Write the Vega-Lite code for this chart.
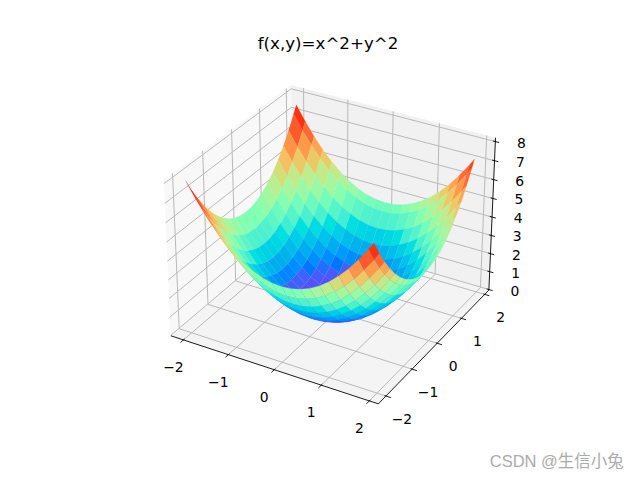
{"$schema":"https://vega.github.io/schema/vega-lite/v6.json","width":640,"height":480,"padding":0,"autosize":{"type":"none"},"background":"white","config":{"view":{"stroke":null}},
"title":{"text":"f(x,y)=x^2+y^2","font":"DejaVu Sans","fontSize":16.67,"fontWeight":"normal","color":"#000000","anchor":"middle","dx":8,"offset":-53},
"data":{"values":[
{"k":"p","g":"L","x":-2.284,"y":-2.284,"z":-0.03},{"k":"p","g":"L","x":-2.284,"y":2.184,"z":-0.03},{"k":"p","g":"L","x":-2.284,"y":2.184,"z":8.2},{"k":"p","g":"L","x":-2.284,"y":-2.284,"z":8.2},
{"k":"p","g":"R","x":-2.284,"y":2.184,"z":-0.03},{"k":"p","g":"R","x":2.184,"y":2.184,"z":-0.03},{"k":"p","g":"R","x":2.184,"y":2.184,"z":8.2},{"k":"p","g":"R","x":-2.284,"y":2.184,"z":8.2},
{"k":"p","g":"F","x":-2.284,"y":-2.284,"z":-0.03},{"k":"p","g":"F","x":2.184,"y":-2.284,"z":-0.03},{"k":"p","g":"F","x":2.184,"y":2.184,"z":-0.03},{"k":"p","g":"F","x":-2.284,"y":2.184,"z":-0.03},
{"k":"g","g":1,"x":-2,"y":-2.284,"z":-0.03},{"k":"g","g":1,"x":-2,"y":2.184,"z":-0.03},{"k":"g","g":1,"x":-2,"y":2.184,"z":8.2},
{"k":"g","g":2,"x":-1,"y":-2.284,"z":-0.03},{"k":"g","g":2,"x":-1,"y":2.184,"z":-0.03},{"k":"g","g":2,"x":-1,"y":2.184,"z":8.2},
{"k":"g","g":3,"x":0,"y":-2.284,"z":-0.03},{"k":"g","g":3,"x":0,"y":2.184,"z":-0.03},{"k":"g","g":3,"x":0,"y":2.184,"z":8.2},
{"k":"g","g":4,"x":1,"y":-2.284,"z":-0.03},{"k":"g","g":4,"x":1,"y":2.184,"z":-0.03},{"k":"g","g":4,"x":1,"y":2.184,"z":8.2},
{"k":"g","g":5,"x":2,"y":-2.284,"z":-0.03},{"k":"g","g":5,"x":2,"y":2.184,"z":-0.03},{"k":"g","g":5,"x":2,"y":2.184,"z":8.2},
{"k":"g","g":6,"x":2.184,"y":-2,"z":-0.03},{"k":"g","g":6,"x":-2.284,"y":-2,"z":-0.03},{"k":"g","g":6,"x":-2.284,"y":-2,"z":8.2},
{"k":"g","g":7,"x":2.184,"y":-1,"z":-0.03},{"k":"g","g":7,"x":-2.284,"y":-1,"z":-0.03},{"k":"g","g":7,"x":-2.284,"y":-1,"z":8.2},
{"k":"g","g":8,"x":2.184,"y":0,"z":-0.03},{"k":"g","g":8,"x":-2.284,"y":0,"z":-0.03},{"k":"g","g":8,"x":-2.284,"y":0,"z":8.2},
{"k":"g","g":9,"x":2.184,"y":1,"z":-0.03},{"k":"g","g":9,"x":-2.284,"y":1,"z":-0.03},{"k":"g","g":9,"x":-2.284,"y":1,"z":8.2},
{"k":"g","g":10,"x":2.184,"y":2,"z":-0.03},{"k":"g","g":10,"x":-2.284,"y":2,"z":-0.03},{"k":"g","g":10,"x":-2.284,"y":2,"z":8.2},
{"k":"g","g":11,"x":-2.284,"y":-2.284,"z":0},{"k":"g","g":11,"x":-2.284,"y":2.184,"z":0},{"k":"g","g":11,"x":2.184,"y":2.184,"z":0},
{"k":"g","g":12,"x":-2.284,"y":-2.284,"z":1},{"k":"g","g":12,"x":-2.284,"y":2.184,"z":1},{"k":"g","g":12,"x":2.184,"y":2.184,"z":1},
{"k":"g","g":13,"x":-2.284,"y":-2.284,"z":2},{"k":"g","g":13,"x":-2.284,"y":2.184,"z":2},{"k":"g","g":13,"x":2.184,"y":2.184,"z":2},
{"k":"g","g":14,"x":-2.284,"y":-2.284,"z":3},{"k":"g","g":14,"x":-2.284,"y":2.184,"z":3},{"k":"g","g":14,"x":2.184,"y":2.184,"z":3},
{"k":"g","g":15,"x":-2.284,"y":-2.284,"z":4},{"k":"g","g":15,"x":-2.284,"y":2.184,"z":4},{"k":"g","g":15,"x":2.184,"y":2.184,"z":4},
{"k":"g","g":16,"x":-2.284,"y":-2.284,"z":5},{"k":"g","g":16,"x":-2.284,"y":2.184,"z":5},{"k":"g","g":16,"x":2.184,"y":2.184,"z":5},
{"k":"g","g":17,"x":-2.284,"y":-2.284,"z":6},{"k":"g","g":17,"x":-2.284,"y":2.184,"z":6},{"k":"g","g":17,"x":2.184,"y":2.184,"z":6},
{"k":"g","g":18,"x":-2.284,"y":-2.284,"z":7},{"k":"g","g":18,"x":-2.284,"y":2.184,"z":7},{"k":"g","g":18,"x":2.184,"y":2.184,"z":7},
{"k":"g","g":19,"x":-2.284,"y":-2.284,"z":8},{"k":"g","g":19,"x":-2.284,"y":2.184,"z":8},{"k":"g","g":19,"x":2.184,"y":2.184,"z":8},
{"k":"a","g":30,"x":-2.284,"y":-2.284,"z":-0.03},{"k":"a","g":30,"x":2.184,"y":-2.284,"z":-0.03},
{"k":"a","g":31,"x":2.184,"y":-2.284,"z":-0.03},{"k":"a","g":31,"x":2.184,"y":2.184,"z":-0.03},
{"k":"a","g":32,"x":2.184,"y":2.184,"z":-0.03},{"k":"a","g":32,"x":2.184,"y":2.184,"z":8.2},
{"k":"a","g":33,"x":-2,"y":-2.384,"z":-0.03},{"k":"a","g":33,"x":-2,"y":-2.244,"z":-0.03},
{"k":"a","g":34,"x":-1,"y":-2.384,"z":-0.03},{"k":"a","g":34,"x":-1,"y":-2.244,"z":-0.03},
{"k":"a","g":35,"x":0,"y":-2.384,"z":-0.03},{"k":"a","g":35,"x":0,"y":-2.244,"z":-0.03},
{"k":"a","g":36,"x":1,"y":-2.384,"z":-0.03},{"k":"a","g":36,"x":1,"y":-2.244,"z":-0.03},
{"k":"a","g":37,"x":2,"y":-2.384,"z":-0.03},{"k":"a","g":37,"x":2,"y":-2.244,"z":-0.03},
{"k":"a","g":38,"x":2.284,"y":-2,"z":-0.03},{"k":"a","g":38,"x":2.154,"y":-2,"z":-0.03},
{"k":"a","g":39,"x":2.284,"y":-1,"z":-0.03},{"k":"a","g":39,"x":2.154,"y":-1,"z":-0.03},
{"k":"a","g":40,"x":2.284,"y":0,"z":-0.03},{"k":"a","g":40,"x":2.154,"y":0,"z":-0.03},
{"k":"a","g":41,"x":2.284,"y":1,"z":-0.03},{"k":"a","g":41,"x":2.154,"y":1,"z":-0.03},
{"k":"a","g":42,"x":2.284,"y":2,"z":-0.03},{"k":"a","g":42,"x":2.154,"y":2,"z":-0.03},
{"k":"a","g":43,"x":2.264,"y":2.184,"z":0},{"k":"a","g":43,"x":2.134,"y":2.184,"z":0},
{"k":"a","g":44,"x":2.264,"y":2.184,"z":1},{"k":"a","g":44,"x":2.134,"y":2.184,"z":1},
{"k":"a","g":45,"x":2.264,"y":2.184,"z":2},{"k":"a","g":45,"x":2.134,"y":2.184,"z":2},
{"k":"a","g":46,"x":2.264,"y":2.184,"z":3},{"k":"a","g":46,"x":2.134,"y":2.184,"z":3},
{"k":"a","g":47,"x":2.264,"y":2.184,"z":4},{"k":"a","g":47,"x":2.134,"y":2.184,"z":4},
{"k":"a","g":48,"x":2.264,"y":2.184,"z":5},{"k":"a","g":48,"x":2.134,"y":2.184,"z":5},
{"k":"a","g":49,"x":2.264,"y":2.184,"z":6},{"k":"a","g":49,"x":2.134,"y":2.184,"z":6},
{"k":"a","g":50,"x":2.264,"y":2.184,"z":7},{"k":"a","g":50,"x":2.134,"y":2.184,"z":7},
{"k":"a","g":51,"x":2.264,"y":2.184,"z":8},{"k":"a","g":51,"x":2.134,"y":2.184,"z":8},
{"k":"tx","t":"−2","x":-2,"y":-2.284,"z":-0.03},{"k":"tx","t":"−1","x":-1,"y":-2.284,"z":-0.03},{"k":"tx","t":"0","x":0,"y":-2.284,"z":-0.03},{"k":"tx","t":"1","x":1,"y":-2.284,"z":-0.03},{"k":"tx","t":"2","x":2,"y":-2.284,"z":-0.03},
{"k":"ty","t":"−2","x":2.184,"y":-2,"z":-0.03},{"k":"ty","t":"−1","x":2.184,"y":-1,"z":-0.03},{"k":"ty","t":"0","x":2.184,"y":0,"z":-0.03},{"k":"ty","t":"1","x":2.184,"y":1,"z":-0.03},{"k":"ty","t":"2","x":2.184,"y":2,"z":-0.03},
{"k":"tz","t":"0","x":2.184,"y":2.184,"z":0},{"k":"tz","t":"1","x":2.184,"y":2.184,"z":1},{"k":"tz","t":"2","x":2.184,"y":2.184,"z":2},{"k":"tz","t":"3","x":2.184,"y":2.184,"z":3},{"k":"tz","t":"4","x":2.184,"y":2.184,"z":4},{"k":"tz","t":"5","x":2.184,"y":2.184,"z":5},{"k":"tz","t":"6","x":2.184,"y":2.184,"z":6},{"k":"tz","t":"7","x":2.184,"y":2.184,"z":7},{"k":"tz","t":"8","x":2.184,"y":2.184,"z":8},
{"k":"w","t":"CSDN @生信小兔","x":2.184,"y":-2.284,"z":-0.03}
]},
"transform":[
{"window":[{"op":"row_number","as":"o"}]},
{"calculate":"0.2558*(datum.x+0.05)","as":"a"},
{"calculate":"0.2558*(datum.y+0.05)","as":"b"},
{"calculate":"0.10304*(datum.z+0.03)-0.4287","as":"d"},
{"calculate":"10/(10-(0.433*datum.a-0.75*datum.b+0.5*datum.d))","as":"f"},
{"calculate":"332.7+208*(0.866*datum.a+0.5*datum.b)*datum.f","as":"sx"},
{"calculate":"236.2-210*(-0.25*datum.a+0.433*datum.b+0.866*datum.d)*datum.f","as":"sy"}
],
"encoding":{"x":{"field":"sx","type":"quantitative","scale":{"domain":[0,640],"nice":false,"zero":false},"axis":null},"y":{"field":"sy","type":"quantitative","scale":{"domain":[480,0],"nice":false,"zero":false},"axis":null}},
"layer":[
{"transform":[{"filter":"datum.k=='p'"}],"mark":{"type":"line","strokeWidth":0,"strokeOpacity":0},"encoding":{"order":{"field":"o","type":"quantitative"},"detail":{"field":"g"},"fill":{"field":"g","type":"nominal","scale":{"domain":["L","R","F"],"range":["#f8f8f8","#f1f1f1","#f4f4f4"]},"legend":null}}},
{"transform":[{"filter":"datum.k=='g'"}],"mark":{"type":"line","stroke":"#b9b9b9","strokeWidth":1,"strokeJoin":"miter"},"encoding":{"order":{"field":"o","type":"quantitative"},"detail":{"field":"g"}}},
{"transform":[{"filter":"datum.k=='a'"}],"mark":{"type":"line","stroke":"#000000","strokeWidth":0.9},"encoding":{"order":{"field":"o","type":"quantitative"},"detail":{"field":"g"}}},
{"data":{"name":"surface","values":[
{"x":-2,"y":1.9,"z":7.61},{"x":-1.8,"y":1.9,"z":6.85},{"x":-1.6,"y":1.9,"z":6.17},{"x":-1.4,"y":1.9,"z":5.57},{"x":-1.2,"y":1.9,"z":5.05},{"x":-1,"y":1.9,"z":4.61},{"x":-0.8,"y":1.9,"z":4.25},{"x":-0.6,"y":1.9,"z":3.97},{"x":-0.4,"y":1.9,"z":3.77},{"x":-0.2,"y":1.9,"z":3.65},{"x":0,"y":1.9,"z":3.61},{"x":0.2,"y":1.9,"z":3.65},{"x":0.4,"y":1.9,"z":3.77},{"x":0.6,"y":1.9,"z":3.97},{"x":0.8,"y":1.9,"z":4.25},{"x":1,"y":1.9,"z":4.61},{"x":1.2,"y":1.9,"z":5.05},{"x":1.4,"y":1.9,"z":5.57},{"x":1.6,"y":1.9,"z":6.17},{"x":1.8,"y":1.9,"z":6.85},{"x":1.9,"y":1.9,"z":7.22},
{"x":-2,"y":1.8,"z":7.24},{"x":-1.8,"y":1.8,"z":6.48},{"x":-1.6,"y":1.8,"z":5.8},{"x":-1.4,"y":1.8,"z":5.2},{"x":-1.2,"y":1.8,"z":4.68},{"x":-1,"y":1.8,"z":4.24},{"x":-0.8,"y":1.8,"z":3.88},{"x":-0.6,"y":1.8,"z":3.6},{"x":-0.4,"y":1.8,"z":3.4},{"x":-0.2,"y":1.8,"z":3.28},{"x":0,"y":1.8,"z":3.24},{"x":0.2,"y":1.8,"z":3.28},{"x":0.4,"y":1.8,"z":3.4},{"x":0.6,"y":1.8,"z":3.6},{"x":0.8,"y":1.8,"z":3.88},{"x":1,"y":1.8,"z":4.24},{"x":1.2,"y":1.8,"z":4.68},{"x":1.4,"y":1.8,"z":5.2},{"x":1.6,"y":1.8,"z":5.8},{"x":1.8,"y":1.8,"z":6.48},{"x":1.9,"y":1.8,"z":6.85},
{"x":-2,"y":1.6,"z":6.56},{"x":-1.8,"y":1.6,"z":5.8},{"x":-1.6,"y":1.6,"z":5.12},{"x":-1.4,"y":1.6,"z":4.52},{"x":-1.2,"y":1.6,"z":4},{"x":-1,"y":1.6,"z":3.56},{"x":-0.8,"y":1.6,"z":3.2},{"x":-0.6,"y":1.6,"z":2.92},{"x":-0.4,"y":1.6,"z":2.72},{"x":-0.2,"y":1.6,"z":2.6},{"x":0,"y":1.6,"z":2.56},{"x":0.2,"y":1.6,"z":2.6},{"x":0.4,"y":1.6,"z":2.72},{"x":0.6,"y":1.6,"z":2.92},{"x":0.8,"y":1.6,"z":3.2},{"x":1,"y":1.6,"z":3.56},{"x":1.2,"y":1.6,"z":4},{"x":1.4,"y":1.6,"z":4.52},{"x":1.6,"y":1.6,"z":5.12},{"x":1.8,"y":1.6,"z":5.8},{"x":1.9,"y":1.6,"z":6.17},
{"x":-2,"y":1.4,"z":5.96},{"x":-1.8,"y":1.4,"z":5.2},{"x":-1.6,"y":1.4,"z":4.52},{"x":-1.4,"y":1.4,"z":3.92},{"x":-1.2,"y":1.4,"z":3.4},{"x":-1,"y":1.4,"z":2.96},{"x":-0.8,"y":1.4,"z":2.6},{"x":-0.6,"y":1.4,"z":2.32},{"x":-0.4,"y":1.4,"z":2.12},{"x":-0.2,"y":1.4,"z":2},{"x":0,"y":1.4,"z":1.96},{"x":0.2,"y":1.4,"z":2},{"x":0.4,"y":1.4,"z":2.12},{"x":0.6,"y":1.4,"z":2.32},{"x":0.8,"y":1.4,"z":2.6},{"x":1,"y":1.4,"z":2.96},{"x":1.2,"y":1.4,"z":3.4},{"x":1.4,"y":1.4,"z":3.92},{"x":1.6,"y":1.4,"z":4.52},{"x":1.8,"y":1.4,"z":5.2},{"x":1.9,"y":1.4,"z":5.57},
{"x":-2,"y":1.2,"z":5.44},{"x":-1.8,"y":1.2,"z":4.68},{"x":-1.6,"y":1.2,"z":4},{"x":-1.4,"y":1.2,"z":3.4},{"x":-1.2,"y":1.2,"z":2.88},{"x":-1,"y":1.2,"z":2.44},{"x":-0.8,"y":1.2,"z":2.08},{"x":-0.6,"y":1.2,"z":1.8},{"x":-0.4,"y":1.2,"z":1.6},{"x":-0.2,"y":1.2,"z":1.48},{"x":0,"y":1.2,"z":1.44},{"x":0.2,"y":1.2,"z":1.48},{"x":0.4,"y":1.2,"z":1.6},{"x":0.6,"y":1.2,"z":1.8},{"x":0.8,"y":1.2,"z":2.08},{"x":1,"y":1.2,"z":2.44},{"x":1.2,"y":1.2,"z":2.88},{"x":1.4,"y":1.2,"z":3.4},{"x":1.6,"y":1.2,"z":4},{"x":1.8,"y":1.2,"z":4.68},{"x":1.9,"y":1.2,"z":5.05},
{"x":-2,"y":1,"z":5},{"x":-1.8,"y":1,"z":4.24},{"x":-1.6,"y":1,"z":3.56},{"x":-1.4,"y":1,"z":2.96},{"x":-1.2,"y":1,"z":2.44},{"x":-1,"y":1,"z":2},{"x":-0.8,"y":1,"z":1.64},{"x":-0.6,"y":1,"z":1.36},{"x":-0.4,"y":1,"z":1.16},{"x":-0.2,"y":1,"z":1.04},{"x":0,"y":1,"z":1},{"x":0.2,"y":1,"z":1.04},{"x":0.4,"y":1,"z":1.16},{"x":0.6,"y":1,"z":1.36},{"x":0.8,"y":1,"z":1.64},{"x":1,"y":1,"z":2},{"x":1.2,"y":1,"z":2.44},{"x":1.4,"y":1,"z":2.96},{"x":1.6,"y":1,"z":3.56},{"x":1.8,"y":1,"z":4.24},{"x":1.9,"y":1,"z":4.61},
{"x":-2,"y":0.8,"z":4.64},{"x":-1.8,"y":0.8,"z":3.88},{"x":-1.6,"y":0.8,"z":3.2},{"x":-1.4,"y":0.8,"z":2.6},{"x":-1.2,"y":0.8,"z":2.08},{"x":-1,"y":0.8,"z":1.64},{"x":-0.8,"y":0.8,"z":1.28},{"x":-0.6,"y":0.8,"z":1},{"x":-0.4,"y":0.8,"z":0.8},{"x":-0.2,"y":0.8,"z":0.68},{"x":0,"y":0.8,"z":0.64},{"x":0.2,"y":0.8,"z":0.68},{"x":0.4,"y":0.8,"z":0.8},{"x":0.6,"y":0.8,"z":1},{"x":0.8,"y":0.8,"z":1.28},{"x":1,"y":0.8,"z":1.64},{"x":1.2,"y":0.8,"z":2.08},{"x":1.4,"y":0.8,"z":2.6},{"x":1.6,"y":0.8,"z":3.2},{"x":1.8,"y":0.8,"z":3.88},{"x":1.9,"y":0.8,"z":4.25},
{"x":-2,"y":0.6,"z":4.36},{"x":-1.8,"y":0.6,"z":3.6},{"x":-1.6,"y":0.6,"z":2.92},{"x":-1.4,"y":0.6,"z":2.32},{"x":-1.2,"y":0.6,"z":1.8},{"x":-1,"y":0.6,"z":1.36},{"x":-0.8,"y":0.6,"z":1},{"x":-0.6,"y":0.6,"z":0.72},{"x":-0.4,"y":0.6,"z":0.52},{"x":-0.2,"y":0.6,"z":0.4},{"x":0,"y":0.6,"z":0.36},{"x":0.2,"y":0.6,"z":0.4},{"x":0.4,"y":0.6,"z":0.52},{"x":0.6,"y":0.6,"z":0.72},{"x":0.8,"y":0.6,"z":1},{"x":1,"y":0.6,"z":1.36},{"x":1.2,"y":0.6,"z":1.8},{"x":1.4,"y":0.6,"z":2.32},{"x":1.6,"y":0.6,"z":2.92},{"x":1.8,"y":0.6,"z":3.6},{"x":1.9,"y":0.6,"z":3.97},
{"x":-2,"y":0.4,"z":4.16},{"x":-1.8,"y":0.4,"z":3.4},{"x":-1.6,"y":0.4,"z":2.72},{"x":-1.4,"y":0.4,"z":2.12},{"x":-1.2,"y":0.4,"z":1.6},{"x":-1,"y":0.4,"z":1.16},{"x":-0.8,"y":0.4,"z":0.8},{"x":-0.6,"y":0.4,"z":0.52},{"x":-0.4,"y":0.4,"z":0.32},{"x":-0.2,"y":0.4,"z":0.2},{"x":0,"y":0.4,"z":0.16},{"x":0.2,"y":0.4,"z":0.2},{"x":0.4,"y":0.4,"z":0.32},{"x":0.6,"y":0.4,"z":0.52},{"x":0.8,"y":0.4,"z":0.8},{"x":1,"y":0.4,"z":1.16},{"x":1.2,"y":0.4,"z":1.6},{"x":1.4,"y":0.4,"z":2.12},{"x":1.6,"y":0.4,"z":2.72},{"x":1.8,"y":0.4,"z":3.4},{"x":1.9,"y":0.4,"z":3.77},
{"x":-2,"y":0.2,"z":4.04},{"x":-1.8,"y":0.2,"z":3.28},{"x":-1.6,"y":0.2,"z":2.6},{"x":-1.4,"y":0.2,"z":2},{"x":-1.2,"y":0.2,"z":1.48},{"x":-1,"y":0.2,"z":1.04},{"x":-0.8,"y":0.2,"z":0.68},{"x":-0.6,"y":0.2,"z":0.4},{"x":-0.4,"y":0.2,"z":0.2},{"x":-0.2,"y":0.2,"z":0.08},{"x":0,"y":0.2,"z":0.04},{"x":0.2,"y":0.2,"z":0.08},{"x":0.4,"y":0.2,"z":0.2},{"x":0.6,"y":0.2,"z":0.4},{"x":0.8,"y":0.2,"z":0.68},{"x":1,"y":0.2,"z":1.04},{"x":1.2,"y":0.2,"z":1.48},{"x":1.4,"y":0.2,"z":2},{"x":1.6,"y":0.2,"z":2.6},{"x":1.8,"y":0.2,"z":3.28},{"x":1.9,"y":0.2,"z":3.65},
{"x":-2,"y":0,"z":4},{"x":-1.8,"y":0,"z":3.24},{"x":-1.6,"y":0,"z":2.56},{"x":-1.4,"y":0,"z":1.96},{"x":-1.2,"y":0,"z":1.44},{"x":-1,"y":0,"z":1},{"x":-0.8,"y":0,"z":0.64},{"x":-0.6,"y":0,"z":0.36},{"x":-0.4,"y":0,"z":0.16},{"x":-0.2,"y":0,"z":0.04},{"x":0,"y":0,"z":0},{"x":0.2,"y":0,"z":0.04},{"x":0.4,"y":0,"z":0.16},{"x":0.6,"y":0,"z":0.36},{"x":0.8,"y":0,"z":0.64},{"x":1,"y":0,"z":1},{"x":1.2,"y":0,"z":1.44},{"x":1.4,"y":0,"z":1.96},{"x":1.6,"y":0,"z":2.56},{"x":1.8,"y":0,"z":3.24},{"x":1.9,"y":0,"z":3.61},
{"x":-2,"y":-0.2,"z":4.04},{"x":-1.8,"y":-0.2,"z":3.28},{"x":-1.6,"y":-0.2,"z":2.6},{"x":-1.4,"y":-0.2,"z":2},{"x":-1.2,"y":-0.2,"z":1.48},{"x":-1,"y":-0.2,"z":1.04},{"x":-0.8,"y":-0.2,"z":0.68},{"x":-0.6,"y":-0.2,"z":0.4},{"x":-0.4,"y":-0.2,"z":0.2},{"x":-0.2,"y":-0.2,"z":0.08},{"x":0,"y":-0.2,"z":0.04},{"x":0.2,"y":-0.2,"z":0.08},{"x":0.4,"y":-0.2,"z":0.2},{"x":0.6,"y":-0.2,"z":0.4},{"x":0.8,"y":-0.2,"z":0.68},{"x":1,"y":-0.2,"z":1.04},{"x":1.2,"y":-0.2,"z":1.48},{"x":1.4,"y":-0.2,"z":2},{"x":1.6,"y":-0.2,"z":2.6},{"x":1.8,"y":-0.2,"z":3.28},{"x":1.9,"y":-0.2,"z":3.65},
{"x":-2,"y":-0.4,"z":4.16},{"x":-1.8,"y":-0.4,"z":3.4},{"x":-1.6,"y":-0.4,"z":2.72},{"x":-1.4,"y":-0.4,"z":2.12},{"x":-1.2,"y":-0.4,"z":1.6},{"x":-1,"y":-0.4,"z":1.16},{"x":-0.8,"y":-0.4,"z":0.8},{"x":-0.6,"y":-0.4,"z":0.52},{"x":-0.4,"y":-0.4,"z":0.32},{"x":-0.2,"y":-0.4,"z":0.2},{"x":0,"y":-0.4,"z":0.16},{"x":0.2,"y":-0.4,"z":0.2},{"x":0.4,"y":-0.4,"z":0.32},{"x":0.6,"y":-0.4,"z":0.52},{"x":0.8,"y":-0.4,"z":0.8},{"x":1,"y":-0.4,"z":1.16},{"x":1.2,"y":-0.4,"z":1.6},{"x":1.4,"y":-0.4,"z":2.12},{"x":1.6,"y":-0.4,"z":2.72},{"x":1.8,"y":-0.4,"z":3.4},{"x":1.9,"y":-0.4,"z":3.77},
{"x":-2,"y":-0.6,"z":4.36},{"x":-1.8,"y":-0.6,"z":3.6},{"x":-1.6,"y":-0.6,"z":2.92},{"x":-1.4,"y":-0.6,"z":2.32},{"x":-1.2,"y":-0.6,"z":1.8},{"x":-1,"y":-0.6,"z":1.36},{"x":-0.8,"y":-0.6,"z":1},{"x":-0.6,"y":-0.6,"z":0.72},{"x":-0.4,"y":-0.6,"z":0.52},{"x":-0.2,"y":-0.6,"z":0.4},{"x":0,"y":-0.6,"z":0.36},{"x":0.2,"y":-0.6,"z":0.4},{"x":0.4,"y":-0.6,"z":0.52},{"x":0.6,"y":-0.6,"z":0.72},{"x":0.8,"y":-0.6,"z":1},{"x":1,"y":-0.6,"z":1.36},{"x":1.2,"y":-0.6,"z":1.8},{"x":1.4,"y":-0.6,"z":2.32},{"x":1.6,"y":-0.6,"z":2.92},{"x":1.8,"y":-0.6,"z":3.6},{"x":1.9,"y":-0.6,"z":3.97},
{"x":-2,"y":-0.8,"z":4.64},{"x":-1.8,"y":-0.8,"z":3.88},{"x":-1.6,"y":-0.8,"z":3.2},{"x":-1.4,"y":-0.8,"z":2.6},{"x":-1.2,"y":-0.8,"z":2.08},{"x":-1,"y":-0.8,"z":1.64},{"x":-0.8,"y":-0.8,"z":1.28},{"x":-0.6,"y":-0.8,"z":1},{"x":-0.4,"y":-0.8,"z":0.8},{"x":-0.2,"y":-0.8,"z":0.68},{"x":0,"y":-0.8,"z":0.64},{"x":0.2,"y":-0.8,"z":0.68},{"x":0.4,"y":-0.8,"z":0.8},{"x":0.6,"y":-0.8,"z":1},{"x":0.8,"y":-0.8,"z":1.28},{"x":1,"y":-0.8,"z":1.64},{"x":1.2,"y":-0.8,"z":2.08},{"x":1.4,"y":-0.8,"z":2.6},{"x":1.6,"y":-0.8,"z":3.2},{"x":1.8,"y":-0.8,"z":3.88},{"x":1.9,"y":-0.8,"z":4.25},
{"x":-2,"y":-1,"z":5},{"x":-1.8,"y":-1,"z":4.24},{"x":-1.6,"y":-1,"z":3.56},{"x":-1.4,"y":-1,"z":2.96},{"x":-1.2,"y":-1,"z":2.44},{"x":-1,"y":-1,"z":2},{"x":-0.8,"y":-1,"z":1.64},{"x":-0.6,"y":-1,"z":1.36},{"x":-0.4,"y":-1,"z":1.16},{"x":-0.2,"y":-1,"z":1.04},{"x":0,"y":-1,"z":1},{"x":0.2,"y":-1,"z":1.04},{"x":0.4,"y":-1,"z":1.16},{"x":0.6,"y":-1,"z":1.36},{"x":0.8,"y":-1,"z":1.64},{"x":1,"y":-1,"z":2},{"x":1.2,"y":-1,"z":2.44},{"x":1.4,"y":-1,"z":2.96},{"x":1.6,"y":-1,"z":3.56},{"x":1.8,"y":-1,"z":4.24},{"x":1.9,"y":-1,"z":4.61},
{"x":-2,"y":-1.2,"z":5.44},{"x":-1.8,"y":-1.2,"z":4.68},{"x":-1.6,"y":-1.2,"z":4},{"x":-1.4,"y":-1.2,"z":3.4},{"x":-1.2,"y":-1.2,"z":2.88},{"x":-1,"y":-1.2,"z":2.44},{"x":-0.8,"y":-1.2,"z":2.08},{"x":-0.6,"y":-1.2,"z":1.8},{"x":-0.4,"y":-1.2,"z":1.6},{"x":-0.2,"y":-1.2,"z":1.48},{"x":0,"y":-1.2,"z":1.44},{"x":0.2,"y":-1.2,"z":1.48},{"x":0.4,"y":-1.2,"z":1.6},{"x":0.6,"y":-1.2,"z":1.8},{"x":0.8,"y":-1.2,"z":2.08},{"x":1,"y":-1.2,"z":2.44},{"x":1.2,"y":-1.2,"z":2.88},{"x":1.4,"y":-1.2,"z":3.4},{"x":1.6,"y":-1.2,"z":4},{"x":1.8,"y":-1.2,"z":4.68},{"x":1.9,"y":-1.2,"z":5.05},
{"x":-2,"y":-1.4,"z":5.96},{"x":-1.8,"y":-1.4,"z":5.2},{"x":-1.6,"y":-1.4,"z":4.52},{"x":-1.4,"y":-1.4,"z":3.92},{"x":-1.2,"y":-1.4,"z":3.4},{"x":-1,"y":-1.4,"z":2.96},{"x":-0.8,"y":-1.4,"z":2.6},{"x":-0.6,"y":-1.4,"z":2.32},{"x":-0.4,"y":-1.4,"z":2.12},{"x":-0.2,"y":-1.4,"z":2},{"x":0,"y":-1.4,"z":1.96},{"x":0.2,"y":-1.4,"z":2},{"x":0.4,"y":-1.4,"z":2.12},{"x":0.6,"y":-1.4,"z":2.32},{"x":0.8,"y":-1.4,"z":2.6},{"x":1,"y":-1.4,"z":2.96},{"x":1.2,"y":-1.4,"z":3.4},{"x":1.4,"y":-1.4,"z":3.92},{"x":1.6,"y":-1.4,"z":4.52},{"x":1.8,"y":-1.4,"z":5.2},{"x":1.9,"y":-1.4,"z":5.57},
{"x":-2,"y":-1.6,"z":6.56},{"x":-1.8,"y":-1.6,"z":5.8},{"x":-1.6,"y":-1.6,"z":5.12},{"x":-1.4,"y":-1.6,"z":4.52},{"x":-1.2,"y":-1.6,"z":4},{"x":-1,"y":-1.6,"z":3.56},{"x":-0.8,"y":-1.6,"z":3.2},{"x":-0.6,"y":-1.6,"z":2.92},{"x":-0.4,"y":-1.6,"z":2.72},{"x":-0.2,"y":-1.6,"z":2.6},{"x":0,"y":-1.6,"z":2.56},{"x":0.2,"y":-1.6,"z":2.6},{"x":0.4,"y":-1.6,"z":2.72},{"x":0.6,"y":-1.6,"z":2.92},{"x":0.8,"y":-1.6,"z":3.2},{"x":1,"y":-1.6,"z":3.56},{"x":1.2,"y":-1.6,"z":4},{"x":1.4,"y":-1.6,"z":4.52},{"x":1.6,"y":-1.6,"z":5.12},{"x":1.8,"y":-1.6,"z":5.8},{"x":1.9,"y":-1.6,"z":6.17},
{"x":-2,"y":-1.8,"z":7.24},{"x":-1.8,"y":-1.8,"z":6.48},{"x":-1.6,"y":-1.8,"z":5.8},{"x":-1.4,"y":-1.8,"z":5.2},{"x":-1.2,"y":-1.8,"z":4.68},{"x":-1,"y":-1.8,"z":4.24},{"x":-0.8,"y":-1.8,"z":3.88},{"x":-0.6,"y":-1.8,"z":3.6},{"x":-0.4,"y":-1.8,"z":3.4},{"x":-0.2,"y":-1.8,"z":3.28},{"x":0,"y":-1.8,"z":3.24},{"x":0.2,"y":-1.8,"z":3.28},{"x":0.4,"y":-1.8,"z":3.4},{"x":0.6,"y":-1.8,"z":3.6},{"x":0.8,"y":-1.8,"z":3.88},{"x":1,"y":-1.8,"z":4.24},{"x":1.2,"y":-1.8,"z":4.68},{"x":1.4,"y":-1.8,"z":5.2},{"x":1.6,"y":-1.8,"z":5.8},{"x":1.8,"y":-1.8,"z":6.48},{"x":1.9,"y":-1.8,"z":6.85},
{"x":-2,"y":-2,"z":8},{"x":-1.8,"y":-2,"z":7.24},{"x":-1.6,"y":-2,"z":6.56},{"x":-1.4,"y":-2,"z":5.96},{"x":-1.2,"y":-2,"z":5.44},{"x":-1,"y":-2,"z":5},{"x":-0.8,"y":-2,"z":4.64},{"x":-0.6,"y":-2,"z":4.36},{"x":-0.4,"y":-2,"z":4.16},{"x":-0.2,"y":-2,"z":4.04},{"x":0,"y":-2,"z":4},{"x":0.2,"y":-2,"z":4.04},{"x":0.4,"y":-2,"z":4.16},{"x":0.6,"y":-2,"z":4.36},{"x":0.8,"y":-2,"z":4.64},{"x":1,"y":-2,"z":5},{"x":1.2,"y":-2,"z":5.44},{"x":1.4,"y":-2,"z":5.96},{"x":1.6,"y":-2,"z":6.56},{"x":1.8,"y":-2,"z":7.24},{"x":1.9,"y":-2,"z":7.61}
]},
"transform":[
{"window":[{"op":"lead","field":"z","as":"zx"},{"op":"lead","field":"x","as":"nx"}],"sort":[{"field":"x","order":"ascending"}],"groupby":["y"]},
{"window":[{"op":"lead","field":"z","as":"zy"},{"op":"lead","field":"zx","as":"zxy"},{"op":"lead","field":"y","as":"ny"}],"sort":[{"field":"y","order":"ascending"}],"groupby":["x"]},
{"filter":"isValid(datum.nx)&&isValid(datum.ny)"},
{"calculate":"(datum.z+datum.zx+datum.zy+datum.zxy)/4","as":"m"},
{"calculate":"datum.x+'_'+datum.y","as":"id"},
{"calculate":"[0,1,2,3]","as":"c"},
{"flatten":["c"]},
{"calculate":"datum.c==1||datum.c==2?datum.nx:datum.x","as":"px"},
{"calculate":"datum.c>=2?datum.ny:datum.y","as":"py"},
{"calculate":"[datum.z,datum.zx,datum.zxy,datum.zy][datum.c]","as":"pz"},
{"calculate":"0.2558*(datum.px+0.05)","as":"a"},
{"calculate":"0.2558*(datum.py+0.05)","as":"b"},
{"calculate":"0.10304*(datum.pz+0.03)-0.4287","as":"d"},
{"calculate":"10/(10-(0.433*datum.a-0.75*datum.b+0.5*datum.d))","as":"f"},
{"calculate":"332.7+208*(0.866*datum.a+0.5*datum.b)*datum.f","as":"sx"},
{"calculate":"236.2-210*(-0.25*datum.a+0.433*datum.b+0.866*datum.d)*datum.f","as":"sy"}
],
"mark":{"type":"line","strokeWidth":0.3},
"encoding":{"order":{"field":"c","type":"quantitative"},"detail":{"field":"id"},
"fill":{"field":"m","type":"quantitative","scale":{"domain":[0,0.9125,1.825,2.7375,3.65,4.5625,5.475,6.3875,7.3],"range":["#8000ff","#4062fa","#00b5eb","#40ecd4","#80ffb4","#c0ec8e","#ffb462","#ff6232","#ff0000"]},"legend":null},
"stroke":{"field":"m","type":"quantitative","scale":{"domain":[0,0.9125,1.825,2.7375,3.65,4.5625,5.475,6.3875,7.3],"range":["#8000ff","#4062fa","#00b5eb","#40ecd4","#80ffb4","#c0ec8e","#ffb462","#ff6232","#ff0000"]},"legend":null}}},
{"transform":[{"filter":"datum.k=='tx'"}],"mark":{"type":"text","font":"DejaVu Sans","fontSize":13.9,"color":"#000000","align":"center","baseline":"middle","dx":-10,"dy":28},"encoding":{"text":{"field":"t"}}},
{"transform":[{"filter":"datum.k=='ty'"}],"mark":{"type":"text","font":"DejaVu Sans","fontSize":13.9,"color":"#000000","align":"center","baseline":"middle","dx":16,"dy":24},"encoding":{"text":{"field":"t"}}},
{"transform":[{"filter":"datum.k=='tz'"}],"mark":{"type":"text","font":"DejaVu Sans","fontSize":13.9,"color":"#000000","align":"center","baseline":"middle","dx":26,"dy":2},"encoding":{"text":{"field":"t"}}},
{"transform":[{"filter":"datum.k=='w'"}],"mark":{"type":"text","font":"Liberation Sans, Noto Sans CJK SC","fontSize":16.5,"color":"#ababab","align":"right","baseline":"middle","dx":245.5,"dy":58},"encoding":{"text":{"field":"t"}}}
],
"resolve":{"scale":{"fill":"independent","stroke":"independent"}}}
